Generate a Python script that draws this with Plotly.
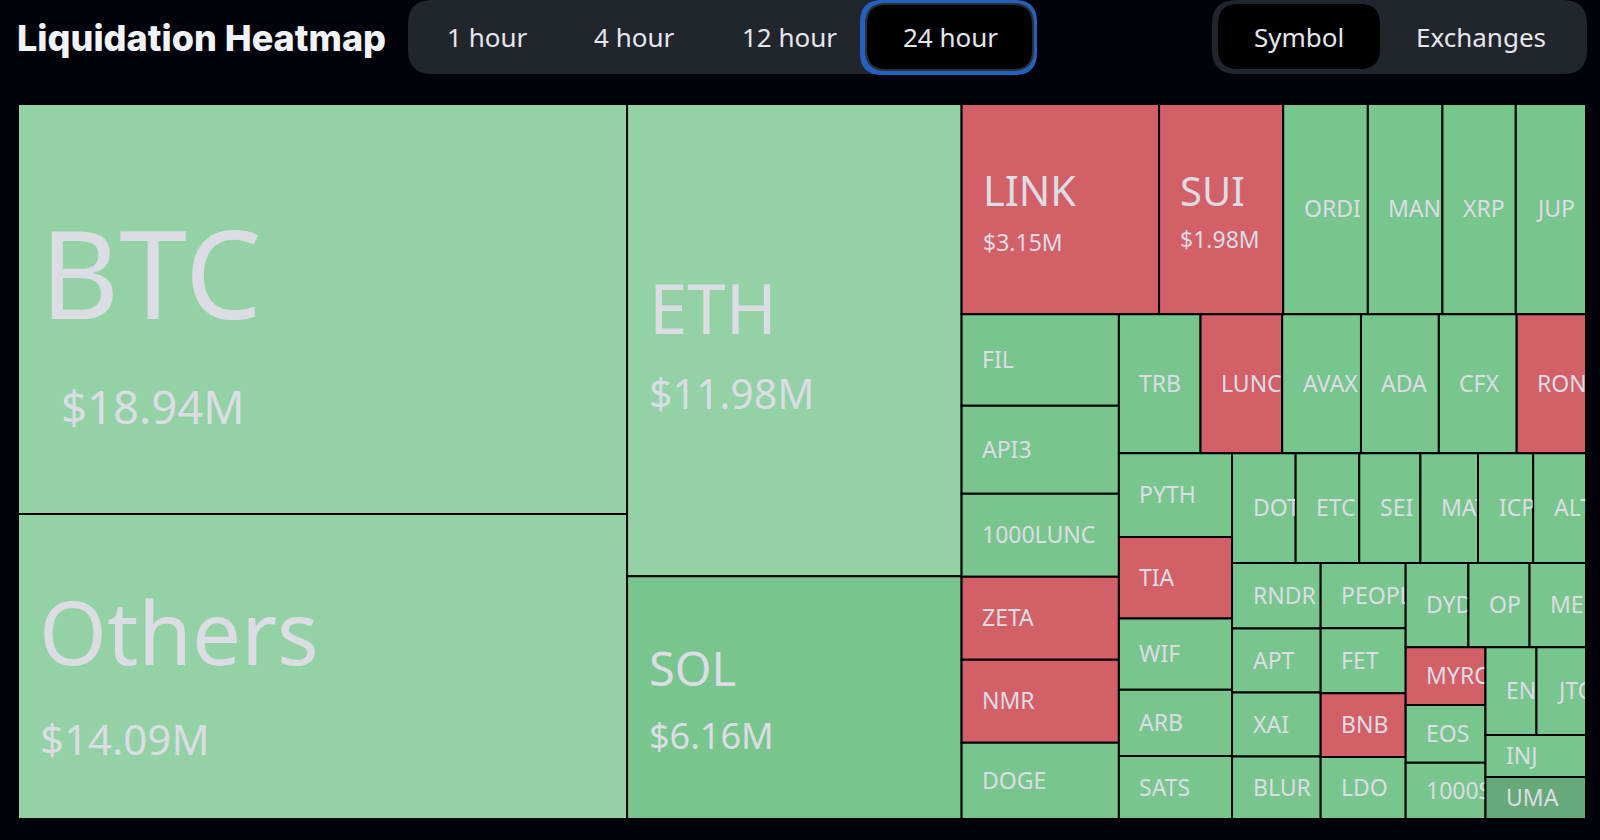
import plotly.graph_objects as go

WIDTH = 1600
HEIGHT = 840
BOX = (18, 104, 1586, 819)  # treemap area in page pixels
RATIO = 1.618

labels = [
    "BTC", "Others", "ETH", "SOL",
    "LINK", "SUI", "ORDI", "MANTA", "XRP", "JUP",
    "FIL", "API3", "1000LUNC", "ZETA", "NMR", "DOGE",
    "TRB", "LUNC", "AVAX", "ADA", "CFX", "RON",
    "PYTH", "TIA", "WIF", "ARB", "SATS",
    "DOT", "ETC", "SEI", "MATIC", "ICP", "ALT",
    "RNDR", "APT", "XAI", "BLUR",
    "PEOPLE", "FET", "BNB", "LDO",
    "DYDX", "OP", "MEME",
    "MYRO", "EOS", "1000SATS",
    "ENS", "JTO", "INJ", "UMA",
]
values = [
    18.94, 14.09, 11.98, 6.16,
    3.15, 1.98, 1.35, 1.19, 1.17, 1.12,
    1.09, 1.05, 0.99, 0.99, 0.99, 0.91,
    0.86, 0.86, 0.83, 0.82, 0.82, 0.73,
    0.72, 0.70, 0.61, 0.57, 0.54,
    0.53, 0.53, 0.51, 0.48, 0.46, 0.44,
    0.44, 0.43, 0.43, 0.42,
    0.42, 0.42, 0.41, 0.40,
    0.40, 0.39, 0.36,
    0.35, 0.35, 0.34,
    0.34, 0.33, 0.32, 0.32,
]
tones = [
    "light", "light", "light", "green",
    "red", "red", "green", "green", "green", "green",
    "green", "green", "green", "red", "red", "green",
    "green", "red", "green", "green", "green", "red",
    "green", "red", "green", "green", "green",
    "green", "green", "green", "green", "green", "green",
    "green", "green", "green", "green",
    "green", "green", "red", "green",
    "green", "green", "green",
    "red", "green", "green",
    "green", "green", "green", "dim",
]
time_tabs = ["1 hour", "4 hour", "12 hour", "24 hour"]
group_tabs = ["Symbol", "Exchanges"]

TONE_COLORS = {
    "light": "#92D2A5",
    "green": "#78C68E",
    "red": "#D36067",
    "dim": "#67AA7A",
}
BG = "#02030A"
PANEL = "#21252C"
TEXT = "#DCDDE4"
FONT = "Noto Sans"

# name size, price size, then offsets from the cell's left edge and middle
big_styles = {
    "BTC": (122, 45.5, 22, 43, -37, 97),
    "Others": (87, 42, 21, 22, -35, 72),
    "ETH": (69, 41, 22, 22, -33, 53),
    "SOL": (47, 36, 22, 22, -30, 38),
    "LINK": (41.5, 23, 21, 21, -19, 33),
    "SUI": (40, 23, 21, 21, -19, 30),
}
# names the cell cuts off in the picture
cut_names = {"MANTA": "MANT", "MATIC": "MAT", "1000SATS": "1000S", "MEME": "ME"}


def squarify(vals, x0, y0, x1, y1, ratio):
    # same row logic as the d3 tiling plotly uses, only to place the labels
    cells = []
    total = sum(vals)
    i = 0
    while i < len(vals):
        dx, dy = x1 - x0, y1 - y0
        alpha = max(dy / dx, dx / dy) / (total * ratio)
        j = i + 1
        row_sum = lo = hi = vals[i]
        beta = row_sum * row_sum * alpha
        best = max(hi / beta, beta / lo)
        while j < len(vals):
            v = vals[j]
            s = row_sum + v
            beta = s * s * alpha
            worst = max(max(hi, v) / beta, beta / min(lo, v))
            if worst > best:
                break
            row_sum, lo, hi, best = s, min(lo, v), max(hi, v), worst
            j += 1
        if dx < dy:
            h = dy * row_sum / total
            x = x0
            for v in vals[i:j]:
                cells.append((x, y0, x + dx * v / row_sum, y0 + h))
                x += dx * v / row_sum
            y0 += h
        else:
            w = dx * row_sum / total
            y = y0
            for v in vals[i:j]:
                cells.append((x0, y, x0 + w, y + dy * v / row_sum))
                y += dy * v / row_sum
            x0 += w
        total -= row_sum
        i = j
    return cells


def px(x):
    return x / WIDTH


def py(y):
    return 1 - y / HEIGHT


def round_rect(x0, y0, x1, y1, r):
    rx, ry = px(r) - px(0), py(0) - py(r)
    a, b, c, d = px(x0), py(y0), px(x1), py(y1)
    return (
        f"M {a + rx} {b} L {c - rx} {b} Q {c} {b} {c} {b - ry} "
        f"L {c} {d + ry} Q {c} {d} {c - rx} {d} "
        f"L {a + rx} {d} Q {a} {d} {a} {d + ry} "
        f"L {a} {b - ry} Q {a} {b} {a + rx} {b} Z"
    )


def pill(x0, y0, x1, y1, r, fill, line=None, width=0):
    return dict(
        type="path", xref="paper", yref="paper",
        path=round_rect(x0, y0, x1, y1, r),
        fillcolor=fill, line=dict(color=line or fill, width=width),
    )


def note(text, x, y, size, color=TEXT, anchor="left", box=None, weight=None, family=FONT):
    ann = dict(
        text=text, x=px(x), y=py(y), xref="paper", yref="paper",
        xanchor=anchor, yanchor="middle", showarrow=False, align=anchor,
        borderpad=0, borderwidth=0,
        font=dict(family=family, size=size, color=color),
    )
    if box is not None:
        ann["width"] = box  # explicit width clips long names at the cell edge
    if weight:
        ann["font"]["weight"] = weight
    return ann


fig = go.Figure(
    go.Treemap(
        labels=labels,
        parents=[""] * len(labels),
        values=values,
        sort=False,
        textinfo="none",
        root=dict(color=BG),
        pathbar=dict(visible=False),
        tiling=dict(packing="squarify", squarifyratio=RATIO, pad=0),
        marker=dict(
            colors=[TONE_COLORS[t] for t in tones],
            line=dict(color="#000000", width=2),
            pad=dict(t=0, l=0, r=0, b=0),
        ),
        domain=dict(
            x=[px(BOX[0]), px(BOX[2])],
            y=[py(BOX[3]), py(BOX[1])],
        ),
        hovertemplate="%{label}<br>$%{value}M<extra></extra>",
    )
)

annotations = []
for name, val, (x0, y0, x1, y1) in zip(labels, values, squarify(values, *BOX, RATIO)):
    mid = (y0 + y1) / 2
    if name in big_styles:
        name_size, price_size, name_dx, price_dx, name_dy, price_dy = big_styles[name]
        annotations.append(note(name, x0 + name_dx, mid + name_dy, name_size))
        annotations.append(note(f"${val:.2f}M", x0 + price_dx, mid + price_dy, price_size))
    else:
        annotations.append(note(cut_names.get(name, name), x0 + 20.5, mid - 1, 23, box=x1 - x0 - 21.5))

annotations.append(note("Liquidation Heatmap", 17, 38, 36, color="#F2F3F6", weight=800, family="Inter"))
for tab, cx in zip(time_tabs, [487, 634, 789, 950]):
    annotations.append(note(tab, cx, 37, 26, color="#E6E7EC", anchor="center"))
for tab, cx in zip(group_tabs, [1299, 1481]):
    annotations.append(note(tab, cx, 37, 26, color="#E6E7EC", anchor="center"))

shapes = [
    pill(408, 0, 1036, 74, 24, PANEL),
    pill(860, 0, 1037, 75, 22, "#2560BE"),
    pill(866, 4, 1033, 70, 20, "#000000", line="#2A2E35", width=2),
    pill(1212, 0, 1587, 74, 24, PANEL),
    pill(1218, 4, 1380, 69, 20, "#000000"),
]

fig.update_layout(
    width=WIDTH,
    height=HEIGHT,
    margin=dict(l=0, r=0, t=0, b=0),
    paper_bgcolor=BG,
    plot_bgcolor=BG,
    shapes=shapes,
    annotations=annotations,
    showlegend=False,
)

fig.write_html(
    "out.html",
    config={"displayModeBar": False},
    post_script="document.body.style.margin='0';",
)
